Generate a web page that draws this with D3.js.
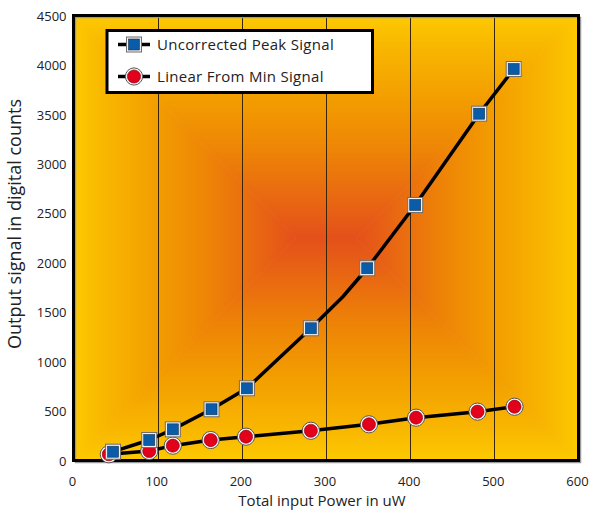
<!DOCTYPE html>
<html>
<head>
<meta charset="utf-8">
<script src="https://cdn.jsdelivr.net/npm/d3@7"></script>
<style>
  html, body { margin: 0; padding: 0; background: #ffffff; }
  svg { display: block; }
  text { font-family: "Open Sans", "DejaVu Sans", sans-serif; fill: #222; }
</style>
</head>
<body>
<svg id="chart" width="592" height="512"></svg>
<script>
// ---- Data ----
const xTicks = [0, 100, 200, 300, 400, 500, 600];
const yTicks = [0, 500, 1000, 1500, 2000, 2500, 3000, 3500, 4000, 4500];

const peakPower  = [47, 90, 118, 164, 206, 282, 349, 406, 482, 523];
const peakSignal = [89, 207, 315, 518, 730, 1337, 1944, 2584, 3507, 3959];

// polyline vertices of the peak-signal trace (includes one unmarked vertex)
const peakLinePower  = [47, 90, 118, 164, 206, 282, 320, 349, 406, 482, 523];
const peakLineSignal = [89, 207, 315, 518, 730, 1337, 1656, 1944, 2584, 3507, 3959];

const linPower  = [42, 90, 118, 163, 205, 282, 351, 407, 480, 524];
const linSignal = [63, 96, 150, 207, 241, 301, 366, 433, 494, 544];

const seriesNames = ["Uncorrected Peak Signal", "Linear From Min Signal"];
const xTitle = "Total input Power in uW";
const yTitle = "Output signal in digital counts";

// ---- Layout ----
const svg = d3.select("#chart");
const L = 73.5, R = 578.5, T = 15.5, B = 460.5;
const x = d3.scaleLinear().domain([0, 600]).range([L, R]);
const y = d3.scaleLinear().domain([0, 4500]).range([B, T]);

// ---- Rectangle gradient background ----
const defs = svg.append("defs");
const W = R - L, H = B - T;
const cx = (L + R) / 2, cy = (T + B) / 2;
const x1 = cx - (W - H) / 2, x2 = cx + (W - H) / 2;
const stops = [
  [0, "#fdca00"], [0.12, "#f9b900"], [0.35, "#f3a000"],
  [0.6, "#ee8506"], [0.82, "#e96812"], [1, "#e4501a"]
];
function grad(id, gx1, gy1, gx2, gy2) {
  const g = defs.append("linearGradient").attr("id", id)
    .attr("gradientUnits", "userSpaceOnUse")
    .attr("x1", gx1).attr("y1", gy1).attr("x2", gx2).attr("y2", gy2);
  stops.forEach(s => g.append("stop").attr("offset", s[0]).attr("stop-color", s[1]));
}
grad("gTop", 0, T, 0, cy);
grad("gBot", 0, B, 0, cy);
grad("gLeft", L, 0, x1, 0);
grad("gRight", R, 0, x2, 0);
const bg = svg.append("g");
bg.append("polygon").attr("points", `${L},${T} ${R},${T} ${x2},${cy} ${x1},${cy}`).attr("fill", "url(#gTop)").attr("stroke", "url(#gTop)").attr("stroke-width", 0.6);
bg.append("polygon").attr("points", `${L},${B} ${R},${B} ${x2},${cy} ${x1},${cy}`).attr("fill", "url(#gBot)").attr("stroke", "url(#gBot)").attr("stroke-width", 0.6);
bg.append("polygon").attr("points", `${L},${T} ${L},${B} ${x1},${cy}`).attr("fill", "url(#gLeft)").attr("stroke", "url(#gLeft)").attr("stroke-width", 0.6);
bg.append("polygon").attr("points", `${R},${T} ${R},${B} ${x2},${cy}`).attr("fill", "url(#gRight)").attr("stroke", "url(#gRight)").attr("stroke-width", 0.6);

// ---- Vertical gridlines ----
svg.append("g").selectAll("line")
  .data(xTicks.filter(d => d > 0 && d < 600))
  .join("line")
  .attr("x1", d => Math.round(x(d)) + 0.5).attr("x2", d => Math.round(x(d)) + 0.5)
  .attr("y1", T).attr("y2", B)
  .attr("stroke", "#3a2400").attr("stroke-width", 1);

// ---- Frame ----
svg.append("rect").attr("x", L + 2).attr("y", T + 2).attr("width", W).attr("height", H)
  .attr("fill", "none").attr("stroke", "#9a9a9a").attr("stroke-width", 1.5);
svg.append("rect").attr("x", L).attr("y", T).attr("width", W).attr("height", H)
  .attr("fill", "none").attr("stroke", "#000").attr("stroke-width", 3);

// ---- Axes (labels only) ----
const xAxis = d3.axisBottom(x).tickValues(xTicks).tickSize(0).tickPadding(0).tickFormat(d3.format("d"));
const gx = svg.append("g").attr("transform", `translate(-1.5,${B + 16})`).call(xAxis);
gx.select(".domain").remove();
gx.selectAll("text").attr("font-size", 13).attr("font-family", "Open Sans, sans-serif").attr("fill", "#222");

const yAxis = d3.axisLeft(y).tickValues(yTicks).tickSize(0).tickPadding(0).tickFormat(d3.format("d"));
const gy = svg.append("g").attr("transform", `translate(${L - 7},0.5)`).call(yAxis);
gy.select(".domain").remove();
gy.selectAll("text").attr("font-size", 13).attr("font-family", "Open Sans, sans-serif").attr("fill", "#222");

svg.append("text").attr("x", 322).attr("y", 506).attr("text-anchor", "middle")
  .attr("font-size", 15).attr("fill", "#333").text(xTitle);
svg.append("text").attr("transform", `translate(21,224) rotate(-90)`).attr("text-anchor", "middle")
  .attr("font-size", 18).attr("fill", "#333").text(yTitle);

// ---- Lines ----
const line = d3.line().x(d => x(d[0])).y(d => y(d[1]));
const linPts = linPower.map((p, i) => [p, linSignal[i]]);
const peakLinePts = peakLinePower.map((p, i) => [p, peakLineSignal[i]]);
const peakPts = peakPower.map((p, i) => [p, peakSignal[i]]);

svg.append("path").datum(linPts).attr("d", line)
  .attr("fill", "none").attr("stroke", "#000").attr("stroke-width", 3.5).attr("stroke-linejoin", "round");
svg.append("path").datum(peakLinePts).attr("d", line)
  .attr("fill", "none").attr("stroke", "#000").attr("stroke-width", 3.5).attr("stroke-linejoin", "round");

// ---- Markers ----
function drawCircle(g, cxp, cyp) {
  g.append("circle").attr("cx", cxp).attr("cy", cyp).attr("r", 8.6)
    .attr("fill", "#fff").attr("stroke", "#555").attr("stroke-width", 1);
  g.append("circle").attr("cx", cxp).attr("cy", cyp).attr("r", 6.6)
    .attr("fill", "#e2001a").attr("stroke", "#7a0010").attr("stroke-width", 0.6);
}
function drawSquare(g, cxp, cyp) {
  g.append("rect").attr("x", cxp - 7.5).attr("y", cyp - 7.5).attr("width", 15).attr("height", 15)
    .attr("fill", "#f2f2f2").attr("stroke", "#6d6d6d").attr("stroke-width", 1);
  g.append("rect").attr("x", cxp - 5.5).attr("y", cyp - 5.5).attr("width", 11).attr("height", 11)
    .attr("fill", "#0a5ca8").attr("stroke", "#1d2f4a").attr("stroke-width", 0.6);
}
const mk = svg.append("g");
linPts.forEach(d => drawCircle(mk, x(d[0]), y(d[1])));
peakPts.forEach(d => drawSquare(mk, x(d[0]), y(d[1])));

// ---- Legend ----
const lg = svg.append("g");
lg.append("rect").attr("x", 107).attr("y", 30.5).attr("width", 265.5).attr("height", 62)
  .attr("fill", "#fff").attr("stroke", "#000").attr("stroke-width", 3);
const rows = [44.5, 76.5];
rows.forEach((ry, i) => {
  lg.append("line").attr("x1", 118).attr("x2", 150).attr("y1", ry).attr("y2", ry)
    .attr("stroke", "#000").attr("stroke-width", 3.5);
  if (i === 0) drawSquare(lg, 134, ry); else drawCircle(lg, 134, ry);
  lg.append("text").attr("x", 157).attr("y", ry + 5.5).attr("font-size", 15)
    .attr("letter-spacing", 0.3).attr("fill", "#222")
    .text(seriesNames[i]);
});
</script>
</body>
</html>
